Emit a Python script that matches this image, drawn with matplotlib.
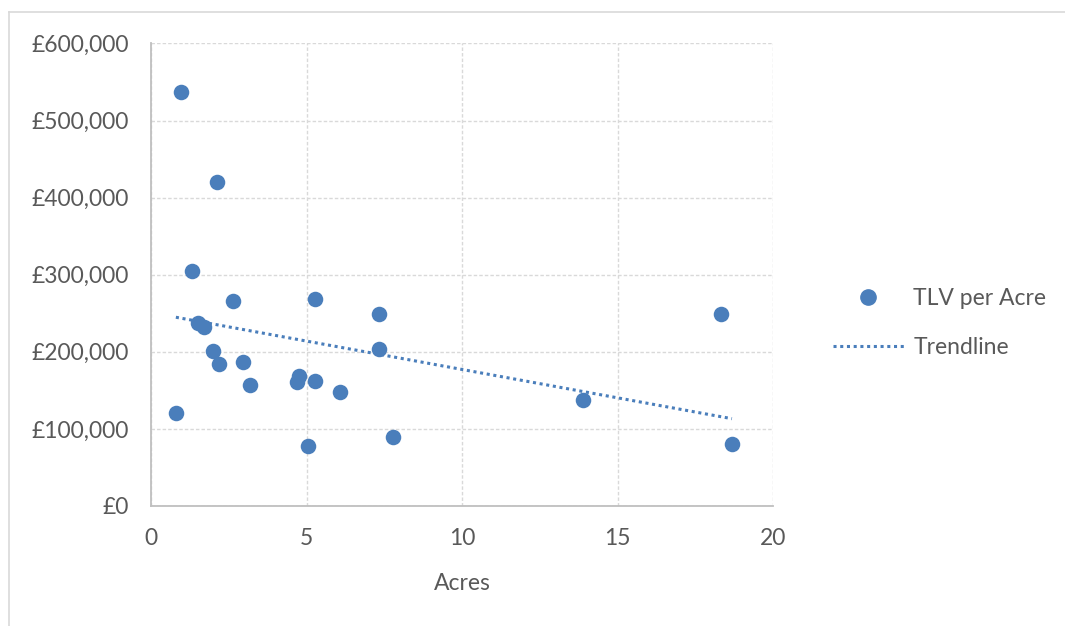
import numpy as np
import matplotlib.pyplot as plt
from matplotlib.lines import Line2D
from matplotlib.ticker import FuncFormatter

# acreage and total land value per acre for each plot
acres = [0.95, 2.13, 1.31, 2.63, 5.26, 7.34, 1.52, 1.71, 7.34, 1.99, 2.20,
         2.97, 3.18, 4.77, 4.68, 5.26, 6.09, 0.80, 5.06, 7.77, 18.33, 13.88, 18.68]
tlv_per_acre = [537000, 420000, 305000, 266000, 268000, 249000, 238000, 232000,
                204000, 201000, 184000, 187000, 157000, 168000, 161000, 162000,
                148000, 120000, 78000, 89000, 249000, 137000, 80000]

x_ticks = [0, 5, 10, 15, 20]
y_ticks = [0, 100000, 200000, 300000, 400000, 500000, 600000]

blue = '#4a7ebb'
grey_txt = '#595959'
fs = 16.5
plt.rcParams['font.family'] = ['Lato', 'DejaVu Sans']

fig = plt.figure(figsize=(10.65, 6.26), dpi=100)
ax = fig.add_axes([151 / 1065, 1 - 506 / 626, 622 / 1065, 462.6 / 626])

ax.scatter(acres, tlv_per_acre, s=125, color=blue, zorder=3, linewidths=0)

# least squares trendline over the data range
coef = np.polyfit(acres, tlv_per_acre, 1)
tx = np.array([min(acres), max(acres)])
ax.plot(tx, np.polyval(coef, tx), color=blue, linestyle=(0, (1, 1.2)), linewidth=2.2, zorder=2)

ax.set_xlim(0, 20)
ax.set_ylim(0, 600000)
ax.set_xticks(x_ticks)
ax.set_yticks(y_ticks)
ax.yaxis.set_major_formatter(FuncFormatter(lambda v, p: '£{:,.0f}'.format(v)))
ax.tick_params(length=0, labelsize=fs, labelcolor=grey_txt)
ax.tick_params(axis='x', pad=16)
ax.tick_params(axis='y', pad=16)
ax.grid(True, color='#d9d9d9', linestyle=(0, (2.5, 1.5)), linewidth=1)
ax.set_axisbelow(True)
for s in ['top', 'right']:
    ax.spines[s].set_visible(False)
for s in ['left', 'bottom']:
    ax.spines[s].set_color('#bfbfbf')
    ax.spines[s].set_linewidth(1.3)
ax.set_xlabel('Acres', fontsize=fs, color=grey_txt, labelpad=17)

handles = [Line2D([], [], marker='o', linestyle='none', color=blue, markersize=11),
           Line2D([], [], color=blue, linestyle=(0, (1, 1.2)), linewidth=2.2)]
fig.legend(handles, ['TLV per Acre', 'Trendline'], loc='center left',
           bbox_to_anchor=(812 / 1065, 1 - 323 / 626), frameon=False,
           fontsize=fs, labelcolor=grey_txt, handlelength=3.1,
           handletextpad=0.42, labelspacing=1.2)

# chart area border
fig.add_artist(Line2D([9 / 1065, 1], [1 - 12 / 626] * 2, color='#d9d9d9', linewidth=1.2))
fig.add_artist(Line2D([9 / 1065] * 2, [0, 1 - 12 / 626], color='#d9d9d9', linewidth=1.2))

fig.savefig('out.png', dpi=100)
